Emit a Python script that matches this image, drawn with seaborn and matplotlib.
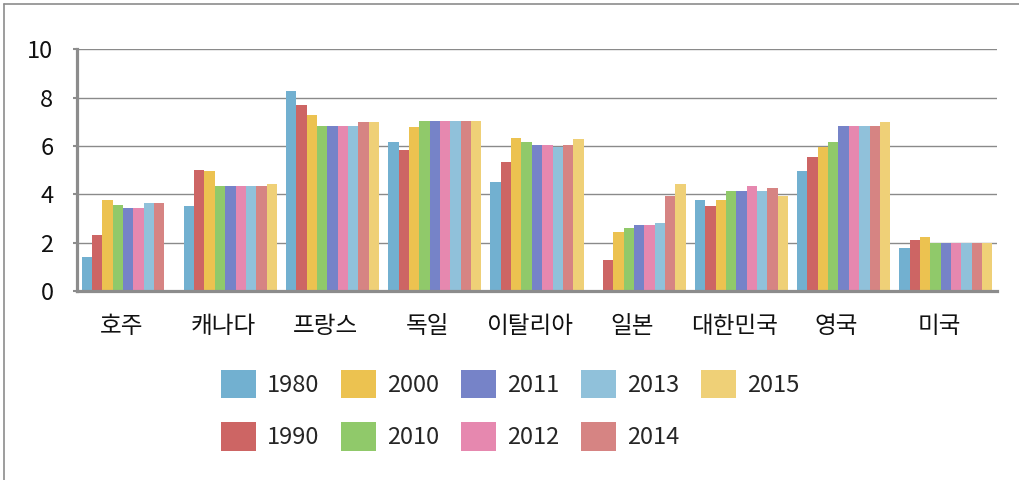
import numpy as np
import pandas as pd
import matplotlib.pyplot as plt
import seaborn as sns
from matplotlib.lines import Line2D
from matplotlib.transforms import ScaledTranslation

# 국가별 / 연도별 값
countries = ['호주', '캐나다', '프랑스', '독일', '이탈리아', '일본', '대한민국', '영국', '미국']
years = ['1980', '1990', '2000', '2010', '2011', '2012', '2013', '2014', '2015']

v1980 = [1.4, 3.5, 8.3, 6.15, 4.5, np.nan, 3.75, 4.95, 1.8]
v1990 = [2.3, 5.0, 7.7, 5.85, 5.35, 1.3, 3.5, 5.55, 2.1]
v2000 = [3.75, 4.95, 7.3, 6.8, 6.35, 2.45, 3.75, 5.95, 2.25]
v2010 = [3.55, 4.35, 6.85, 7.05, 6.15, 2.6, 4.15, 6.15, 2.0]
v2011 = [3.45, 4.35, 6.85, 7.05, 6.05, 2.75, 4.15, 6.85, 2.0]
v2012 = [3.45, 4.35, 6.85, 7.05, 6.05, 2.75, 4.35, 6.85, 2.0]
v2013 = [3.65, 4.35, 6.85, 7.05, 5.95, 2.8, 4.15, 6.85, 2.0]
v2014 = [3.65, 4.35, 7.0, 7.05, 6.05, 3.95, 4.25, 6.85, 2.0]
v2015 = [np.nan, 4.45, 7.0, 7.05, 6.3, 4.45, 3.95, 7.0, 2.0]

colors = ['#72b0d0', '#cd6564', '#ecc250', '#90c96a', '#7683c8',
          '#e688af', '#90c1da', '#d68483', '#efd077']

series = [v1980, v1990, v2000, v2010, v2011, v2012, v2013, v2014, v2015]
rows = []
for year, vals in zip(years, series):
    for country, v in zip(countries, vals):
        rows.append({'country': country, 'year': year, 'value': v})
dt = pd.DataFrame(rows).dropna()

sns.set_theme(style='white')
plt.rcParams['font.family'] = ['Noto Sans CJK KR', 'DejaVu Sans']

fig = plt.figure(figsize=(10.19, 4.8), dpi=100)
ax = fig.add_axes([77 / 1019, 1 - 291 / 480, 920 / 1019, 241.5 / 480])

sns.barplot(data=dt, x='country', y='value', hue='year', order=countries,
            hue_order=years, palette=colors, width=0.91, saturation=1,
            gap=0, linewidth=0, ax=ax)

ax.set_ylim(0, 10)
ax.set_xlim(-0.5, len(countries) - 0.5)
ax.set_yticks(np.arange(0, 11, 2))
ax.set_xlabel('')
ax.set_ylabel('')

# 격자와 축
ax.set_axisbelow(True)
ax.grid(axis='y', color='#8a8a8a', linewidth=1.0)
for s in ['top', 'right']:
    ax.spines[s].set_visible(False)
for s in ['left', 'bottom']:
    ax.spines[s].set_color('#8c8c8c')
    ax.spines[s].set_linewidth(2.3)
ax.tick_params(axis='y', left=True, length=3, width=1.5, color='#8c8c8c',
               pad=14, labelsize=17, labelcolor='#111111')
ax.tick_params(axis='x', bottom=False, length=0, pad=17, labelsize=17,
               labelcolor='#111111')
for lab in ax.get_xticklabels():
    lab.set_transform(lab.get_transform() + ScaledTranslation(-7 / 100, 0, fig.dpi_scale_trans))

# 범례
handles, labels = ax.get_legend_handles_labels()
ax.get_legend().remove()
fig.legend(handles, labels, ncol=5, loc='upper left',
           bbox_to_anchor=(221 / 1019, 1 - 370 / 480), frameon=False,
           fontsize=17, handlelength=1.48, handleheight=1.48,
           handletextpad=0.47, columnspacing=0.92, labelspacing=1.0,
           borderpad=0, borderaxespad=0)

# 바깥 테두리
fig.add_artist(Line2D([4 / 1019, 1], [1 - 4 / 480, 1 - 4 / 480], color='#8c8c8c', lw=1.2))
fig.add_artist(Line2D([4 / 1019, 4 / 1019], [0, 1 - 4 / 480], color='#8c8c8c', lw=1.2))

plt.savefig('out.png', dpi=100)
plt.close()
